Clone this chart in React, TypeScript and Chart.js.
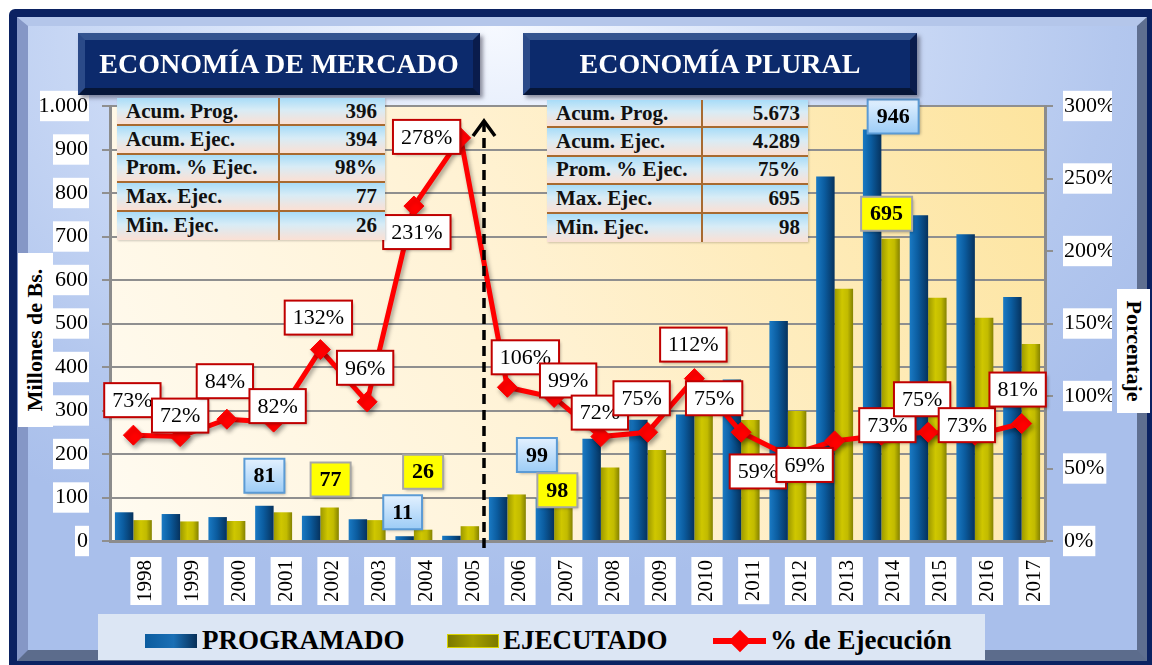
import React, { useEffect, useRef } from 'react';
import { Chart, registerables } from 'chart.js';

Chart.register(...registerables);

const FONT = "'Liberation Serif', 'Times New Roman', serif";

const years = ['1998', '1999', '2000', '2001', '2002', '2003', '2004', '2005', '2006', '2007', '2008', '2009', '2010', '2011', '2012', '2013', '2014', '2015', '2016', '2017'];
const programado = [66, 62, 55, 81, 58, 50, 11, 12, 101, 99, 235, 279, 291, 371, 506, 838, 946, 749, 705, 561];
const ejecutado = [48, 45, 46, 66, 77, 48, 26, 34, 107, 98, 169, 209, 327, 278, 299, 580, 695, 559, 513, 453];
const porcentaje = [73, 72, 84, 82, 132, 96, 231, 278, 106, 99, 72, 75, 112, 75, 59, 69, 73, 75, 73, 81];

const tablaEtiquetas = ['Acum. Prog.', 'Acum. Ejec.', 'Prom. % Ejec.', 'Max. Ejec.', 'Min. Ejec.'];
const tablaMercado = ['396', '394', '98%', '77', '26'];
const tablaPlural = ['5.673', '4.289', '75%', '695', '98'];

const serieNombres = ['PROGRAMADO', 'EJECUTADO', '% de Ejecución'];
const titulos = ['ECONOMÍA DE MERCADO', 'ECONOMÍA PLURAL'];

// label offsets (layout only) relative to each % point
const pctOffsets: [number, number][] = [
  [-1, -35], [0, -21], [-2, -38], [4, -16], [-2, -32], [-2, -34], [3, 26], [-34, -1],
  [18, -30], [14, -17], [-1, -24], [-6, -34], [-1, -34], [-27, -34], [-30, 16], [-30, 24],
  [6, -10], [-6, -33], [-8, -10], [-4, -34],
];

// highlighted bar values: dataset, index, offset from bar top (layout only)
const destacados: { ds: number; idx: number; dx: number; dy: number }[] = [
  { ds: 0, idx: 3, dx: 0, dy: -30 },
  { ds: 1, idx: 4, dx: 1, dy: -28 },
  { ds: 1, idx: 6, dx: 0, dy: -58 },
  { ds: 0, idx: 6, dx: -2, dy: -24 },
  { ds: 0, idx: 9, dx: -8, dy: -43 },
  { ds: 1, idx: 9, dx: -6, dy: -8 },
  { ds: 0, idx: 16, dx: 21, dy: -13 },
  { ds: 1, idx: 16, dx: -4, dy: -25 },
];

const CAT_PCT = 0.79;

function barGradient(c: any, stops: [number, string][], fallback: string) {
  const chart = c.chart;
  const xs = chart.scales && chart.scales.x;
  if (!chart.chartArea || !xs || c.type !== 'data') return fallback;
  const center = xs.getPixelForValue(c.dataIndex);
  const bw = (xs.width / years.length) * CAT_PCT / 2;
  const left = c.datasetIndex === 0 ? center - bw : center;
  const g = chart.ctx.createLinearGradient(left, 0, left + bw, 0);
  stops.forEach(([o, col]) => g.addColorStop(o, col));
  return g;
}

const fmtMiles = (v: number) =>
  v >= 1000 ? `${Math.floor(v / 1000)}.${String(v % 1000).padStart(3, '0')}` : String(v);

const bgPlugin = {
  id: 'plotBg',
  beforeDraw(chart: any) {
    const { ctx, chartArea: a } = chart;
    if (!a) return;
    const g = ctx.createLinearGradient(a.left, a.bottom, a.right, a.top);
    g.addColorStop(0, '#fffbf1');
    g.addColorStop(0.45, '#fff2d4');
    g.addColorStop(1, '#fde49e');
    ctx.save();
    ctx.fillStyle = g;
    ctx.fillRect(a.left, a.top, a.width, a.height);
    ctx.restore();
  },
  beforeDatasetDraw(chart: any, args: any) {
    if (args.index === 2) {
      const ctx = chart.ctx;
      ctx.save();
      ctx.shadowColor = 'rgba(0,0,0,0.35)';
      ctx.shadowBlur = 4;
      ctx.shadowOffsetX = 2;
      ctx.shadowOffsetY = 3;
    }
  },
  afterDatasetDraw(chart: any, args: any) {
    if (args.index === 2) chart.ctx.restore();
  },
};

function roundBox(ctx: CanvasRenderingContext2D, x: number, y: number, w: number, h: number) {
  ctx.beginPath();
  ctx.rect(x, y, w, h);
}

const annotPlugin = {
  id: 'annots',
  afterDatasetsDraw(chart: any) {
    const { ctx, chartArea: a } = chart;
    const xs = chart.scales.x;
    // dashed separator with arrow
    const xd = (xs.getPixelForValue(7) + xs.getPixelForValue(8)) / 2;
    ctx.save();
    ctx.strokeStyle = '#000';
    ctx.lineWidth = 3.5;
    ctx.setLineDash([10, 6]);
    ctx.beginPath();
    ctx.moveTo(xd, a.top + 16);
    ctx.lineTo(xd, a.bottom + 10);
    ctx.stroke();
    ctx.setLineDash([]);
    ctx.lineWidth = 3.5;
    ctx.beginPath();
    ctx.moveTo(xd - 11, a.top + 30);
    ctx.lineTo(xd, a.top + 15);
    ctx.lineTo(xd + 11, a.top + 30);
    ctx.stroke();
    ctx.restore();

    // percentage labels
    const metaL = chart.getDatasetMeta(2);
    ctx.save();
    ctx.font = `22px ${FONT}`;
    ctx.textAlign = 'center';
    ctx.textBaseline = 'middle';
    porcentaje.forEach((p, i) => {
      const pt = metaL.data[i];
      const [dx, dy] = pctOffsets[i];
      const cx = pt.x + dx;
      const cy = pt.y + dy;
      const txt = `${p}%`;
      const w = ctx.measureText(txt).width + 16;
      const h = 34;
      ctx.shadowColor = 'rgba(0,0,0,0.3)';
      ctx.shadowBlur = 3;
      ctx.shadowOffsetX = 2;
      ctx.shadowOffsetY = 2;
      ctx.fillStyle = '#ffffff';
      ctx.fillRect(cx - w / 2, cy - h / 2, w, h);
      ctx.shadowColor = 'transparent';
      ctx.strokeStyle = '#c00000';
      ctx.lineWidth = 2;
      ctx.strokeRect(cx - w / 2, cy - h / 2, w, h);
      ctx.fillStyle = '#000';
      ctx.fillText(txt, cx, cy + 1);
    });
    ctx.restore();

    // highlighted values
    ctx.save();
    ctx.font = `bold 22px ${FONT}`;
    ctx.textAlign = 'center';
    ctx.textBaseline = 'middle';
    destacados.forEach((d) => {
      const el = chart.getDatasetMeta(d.ds).data[d.idx];
      const val = (d.ds === 0 ? programado : ejecutado)[d.idx];
      const txt = String(val);
      const cx = el.x + d.dx;
      const cy = el.y + d.dy;
      const w = ctx.measureText(txt).width + 18;
      const h = 34;
      ctx.shadowColor = 'rgba(0,0,0,0.3)';
      ctx.shadowBlur = 3;
      ctx.shadowOffsetX = 2;
      ctx.shadowOffsetY = 2;
      if (d.ds === 0) {
        const g = ctx.createLinearGradient(0, cy - h / 2, 0, cy + h / 2);
        g.addColorStop(0, '#e3f1ff');
        g.addColorStop(1, '#9cccf6');
        ctx.fillStyle = g;
      } else {
        ctx.fillStyle = '#ffff00';
      }
      roundBox(ctx, cx - w / 2, cy - h / 2, w, h);
      ctx.fill();
      ctx.shadowColor = 'transparent';
      ctx.strokeStyle = d.ds === 0 ? '#5b9bd5' : '#a6a6a6';
      ctx.lineWidth = 2;
      ctx.stroke();
      ctx.fillStyle = '#000';
      ctx.fillText(txt, cx, cy + 1);
    });
    ctx.restore();
  },
};

const tickBackdrop = {
  showLabelBackdrop: true,
  backdropColor: '#ffffff',
};

function Tabla({ left, top, col1, width, valores }: { left: number; top: number; col1: number; width: number; valores: string[] }) {
  return (
    <div style={{ position: 'absolute', left, top, width, boxShadow: '1px 1px 2px rgba(0,0,0,0.2)' }}>
      {tablaEtiquetas.map((lab, i) => (
        <div
          key={lab}
          style={{
            height: 28.4,
            boxSizing: 'border-box',
            display: 'flex',
            alignItems: 'center',
            background: 'linear-gradient(#a8dcf8 0%, #d8ecf6 45%, #fbe0d4 100%)',
            borderBottom: i < tablaEtiquetas.length - 1 ? '2px solid #a86a30' : 'none',
            font: `bold 21px ${FONT}`,
            color: '#111',
          }}
        >
          <div style={{ width: col1, boxSizing: 'border-box', paddingLeft: 9, height: '100%', display: 'flex', alignItems: 'center', borderRight: '2px solid #a86a30' }}>
            {lab}
          </div>
          <div style={{ flex: 1, textAlign: 'right', paddingRight: 8 }}>{valores[i]}</div>
        </div>
      ))}
    </div>
  );
}

function Encabezado({ left, width, text }: { left: number; width: number; text: string }) {
  return (
    <div
      style={{
        position: 'absolute',
        left,
        top: 33,
        width,
        height: 62,
        boxSizing: 'border-box',
        background: '#0c2a6c',
        borderStyle: 'solid',
        borderWidth: 7,
        borderColor: '#34548f #0a1c4c #061638 #2b4a88',
        boxShadow: '3px 3px 4px rgba(60,60,80,0.55)',
        color: '#fff',
        font: `bold 28px ${FONT}`,
        display: 'flex',
        alignItems: 'center',
        justifyContent: 'center',
        whiteSpace: 'nowrap',
      }}
    >
      {text}
    </div>
  );
}

export default function App() {
  const ref = useRef<HTMLCanvasElement>(null);

  useEffect(() => {
    document.body.style.margin = '0';
    const canvas = ref.current!;
    const chart = new Chart(canvas, {
      type: 'bar',
      data: {
        labels: years,
        datasets: [
          {
            type: 'bar',
            label: serieNombres[0],
            data: programado,
            yAxisID: 'y',
            order: 2,
            categoryPercentage: CAT_PCT,
            barPercentage: 1,
            backgroundColor: (c: any) =>
              barGradient(c, [[0, '#1a7ac4'], [0.45, '#0b5c9f'], [1, '#06325d']], '#0b5a9c'),
            borderWidth: 0,
          },
          {
            type: 'bar',
            label: serieNombres[1],
            data: ejecutado,
            yAxisID: 'y',
            order: 2,
            categoryPercentage: CAT_PCT,
            barPercentage: 1,
            backgroundColor: (c: any) =>
              barGradient(c, [[0, '#9c9800'], [0.4, '#cfc700'], [0.7, '#c2bb00'], [1, '#858200']], '#b8b200'),
            borderWidth: 0,
          },
          {
            type: 'line',
            label: serieNombres[2],
            data: porcentaje,
            yAxisID: 'y1',
            order: 0,
            borderColor: '#ff0000',
            backgroundColor: '#ff0000',
            borderWidth: 5,
            pointStyle: 'rectRot',
            pointRadius: 10,
            pointBackgroundColor: '#ff0000',
            pointBorderColor: '#ff0000',
            pointBorderWidth: 1,
            tension: 0,
          },
        ],
      },
      options: {
        responsive: false,
        animation: false,
        layout: { padding: { left: 40, right: 40, top: 106, bottom: 0 } },
        plugins: {
          legend: { display: false },
          tooltip: { enabled: false },
        },
        scales: {
          x: {
            grid: { display: false, drawTicks: false },
            border: { display: true, color: '#8c8c8c', width: 3 },
            ticks: {
              autoSkip: false,
              maxRotation: 90,
              minRotation: 90,
              color: '#000',
              padding: 19,
              font: { family: FONT, size: 21 },
              ...tickBackdrop,
              backdropPadding: { top: 3, bottom: 3, left: 3, right: 3 },
            },
            afterFit: (s: any) => {
              s.height = 124;
            },
          } as any,
          y: {
            position: 'left',
            min: 0,
            max: 1000,
            ticks: {
              stepSize: 100,
              color: '#000',
              padding: 14,
              font: { family: FONT, size: 22 },
              callback: (v: any) => fmtMiles(Number(v)),
              ...tickBackdrop,
              backdropPadding: { top: 2, bottom: 2, left: 2, right: 1 },
            },
            grid: { color: '#8f8f8f', lineWidth: 2, drawTicks: true, tickLength: 8 },
            border: { display: true, color: '#8c8c8c', width: 3 },
            afterFit: (s: any) => {
              s.width = 70;
            },
          } as any,
          y1: {
            position: 'right',
            min: 0,
            max: 300,
            ticks: {
              stepSize: 50,
              color: '#000',
              padding: 11,
              font: { family: FONT, size: 22 },
              callback: (v: any) => `${v}%`,
              ...tickBackdrop,
              backdropPadding: { top: 2, bottom: 2, left: 1, right: 2 },
            },
            grid: { drawOnChartArea: false, color: '#8f8f8f', lineWidth: 2, drawTicks: true, tickLength: 8 },
            border: { display: true, color: '#8c8c8c', width: 3 },
            afterFit: (s: any) => {
              s.width = 67;
            },
          } as any,
        },
      },
      plugins: [bgPlugin, annotPlugin],
    } as any);
    return () => chart.destroy();
  }, []);

  const legendText: React.CSSProperties = {
    position: 'absolute',
    top: 622,
    font: `bold 27px ${FONT}`,
    color: '#000',
    whiteSpace: 'nowrap',
    lineHeight: '36px',
  };

  return (
    <div style={{ position: 'absolute', left: 0, top: 0, width: 1152, height: 665, overflow: 'hidden', background: '#ffffff' }}>
      {/* outer navy frame */}
      <div style={{ position: 'absolute', left: 9, top: 9, width: 1160, height: 670, background: '#0b2262', borderRadius: 6 }} />
      {/* bevel + inner background */}
      <div
        style={{
          position: 'absolute',
          left: 17,
          top: 17,
          width: 1130,
          height: 644,
          boxSizing: 'border-box',
          borderStyle: 'solid',
          borderWidth: '9px 10px 11px 11px',
          borderColor: '#b4c6ea #5f6f90 #5c6c8c #8597c6',
          background: 'radial-gradient(ellipse 70% 90% at 42% 0%, #f6f9ff 0%, #d3e0f8 40%, #b3c7ee 80%, #a9bfeb 100%)',
        }}
      />
      <canvas ref={ref} width={1152} height={665} style={{ position: 'absolute', left: 0, top: 0 }} />

      <Encabezado left={78} width={402} text={titulos[0]} />
      <Encabezado left={523} width={394} text={titulos[1]} />

      <Tabla left={117} top={98} width={268} col1={163} valores={tablaMercado} />
      <Tabla left={547} top={100} width={261} col1={156} valores={tablaPlural} />

      {/* axis titles */}
      <div
        style={{
          position: 'absolute',
          left: 18,
          top: 253,
          width: 35,
          height: 174,
          background: '#fff',
          display: 'flex',
          alignItems: 'center',
          justifyContent: 'center',
        }}
      >
        <div style={{ transform: 'rotate(-90deg)', font: `bold 22px ${FONT}`, whiteSpace: 'nowrap', color: '#000' }}>Millones de Bs.</div>
      </div>
      <div
        style={{
          position: 'absolute',
          left: 1117,
          top: 289,
          width: 33,
          height: 124,
          background: '#fff',
          display: 'flex',
          alignItems: 'center',
          justifyContent: 'center',
        }}
      >
        <div style={{ transform: 'rotate(90deg)', font: `bold 22px ${FONT}`, whiteSpace: 'nowrap', color: '#000' }}>Porcentaje</div>
      </div>

      {/* legend */}
      <div style={{ position: 'absolute', left: 98, top: 614, width: 887, height: 46, background: '#dce6f4' }} />
      <div
        style={{
          position: 'absolute',
          left: 145,
          top: 634,
          width: 52,
          height: 14,
          background: 'linear-gradient(90deg, #0b5c9f 0%, #1a6fb5 55%, #062f58 100%)',
        }}
      />
      <div style={{ ...legendText, left: 202 }}>{serieNombres[0]}</div>
      <div
        style={{
          position: 'absolute',
          left: 447,
          top: 634,
          width: 52,
          height: 14,
          boxSizing: 'border-box',
          border: '1px solid #d8d200',
          background: 'linear-gradient(90deg, #7c7900 0%, #a39f00 50%, #7c7900 100%)',
        }}
      />
      <div style={{ ...legendText, left: 503 }}>{serieNombres[1]}</div>
      <div style={{ position: 'absolute', left: 713, top: 638, width: 53, height: 6, background: '#ff0000' }} />
      <div
        style={{
          position: 'absolute',
          left: 732,
          top: 633,
          width: 16,
          height: 16,
          background: '#ff0000',
          transform: 'rotate(45deg)',
        }}
      />
      <div style={{ ...legendText, left: 770 }}>{serieNombres[2]}</div>
    </div>
  );
}
